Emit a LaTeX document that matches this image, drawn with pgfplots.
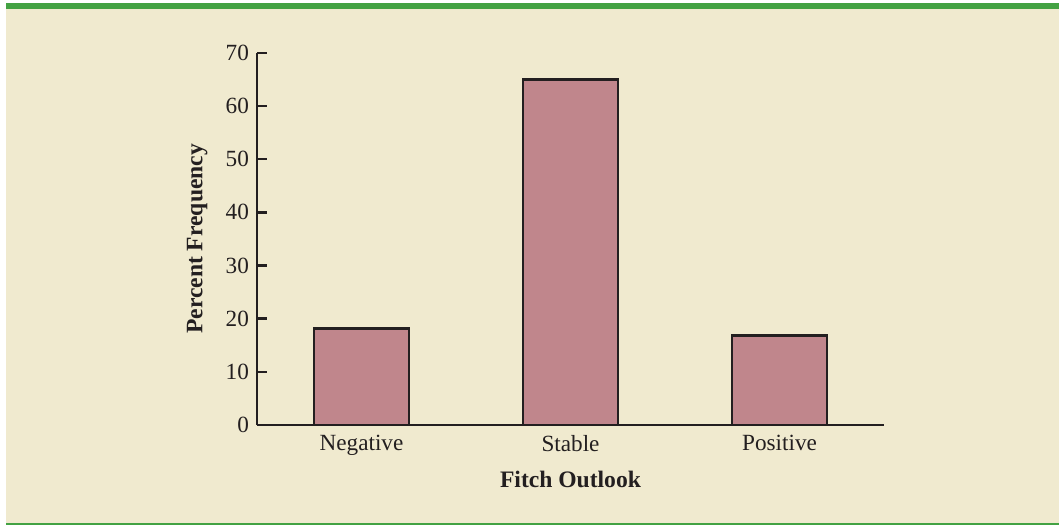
\documentclass[border=0pt]{standalone}
\usepackage{fontspec}
\setmainfont{Liberation Serif}
\usepackage{pgfplots}
\pgfplotsset{compat=1.18}
\definecolor{bgbeige}{RGB}{240,234,207}
\definecolor{gband}{RGB}{67,162,67}
\definecolor{barfill}{RGB}{192,134,140}
\definecolor{ink}{RGB}{35,31,32}
\begin{document}
\begin{tikzpicture}[x=0.5pt,y=0.5pt]
\fill[white] (0,0) rectangle (1059,525);
\fill[bgbeige] (6,2) rectangle (1059,516);
\fill[gband] (6,516) rectangle (1059,522);
\fill[gband] (6,0) rectangle (1059,2);
\begin{axis}[
  at={(128.5pt,50pt)}, anchor=south west,
  scale only axis,
  width=313.5pt, height=186.1pt,
  xmin=-0.5, xmax=2.5, ymin=0, ymax=70,
  axis x line=bottom, axis y line=left,
  axis line style={-, line width=1.2pt, draw=ink},
  xtick=data,
  xticklabels={Negative,Stable,Positive},
  x tick style={draw=none},
  ytick={0,10,...,70},
  y tick style={line width=1.2pt, draw=ink},
  major tick length=5pt,
  tick align=inside,
  /pgf/number format/assume math mode=true,
  tick label style={font=\fontsize{11.6}{13}\selectfont, text=ink},
  xticklabel style={yshift=3.5pt},
  yticklabel style={xshift=-0.5pt},
  label style={font=\fontsize{11.8}{14}\selectfont\bfseries, text=ink},
  xlabel={Fitch Outlook},
  ylabel={Percent Frequency},
  xlabel style={at={(axis description cs:0.5,-0.145)}, anchor=center},
  ylabel style={at={(axis description cs:-0.0955,0.5)}, anchor=center},
  ybar, bar width=47.5pt,
  clip=false,
]
\addplot[fill=barfill, draw=ink, line width=1.35pt] coordinates {(0,18.2) (1,65.0) (2,16.8)};
\end{axis}
\end{tikzpicture}
\end{document}
